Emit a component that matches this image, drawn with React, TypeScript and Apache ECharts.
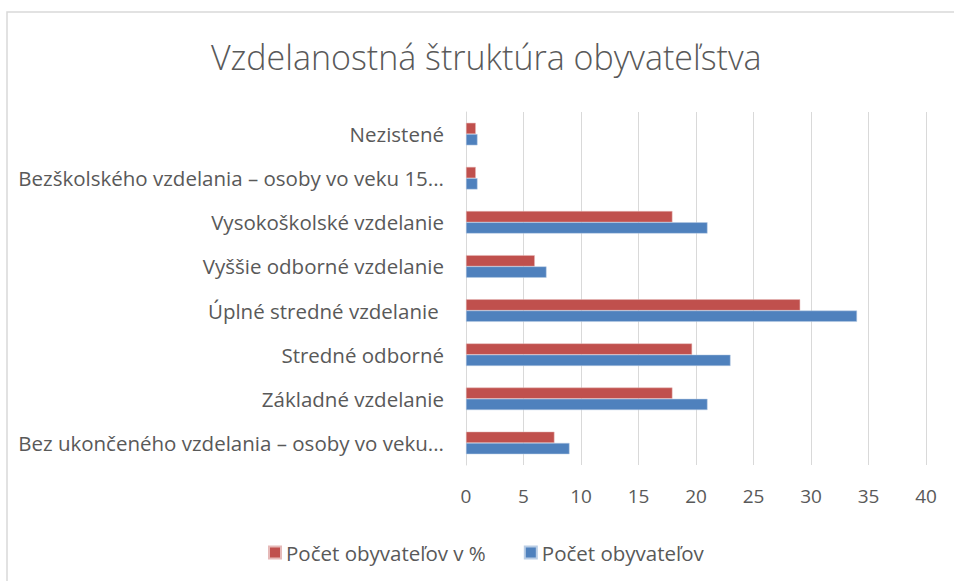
import React, { useEffect, useRef } from "react";
import * as echarts from "echarts";

const categories = [
  "Bez ukončeného vzdelania – osoby vo veku...",
  "Základné vzdelanie",
  "Stredné odborné",
  "Úplné stredné vzdelanie ",
  "Vyššie odborné vzdelanie",
  "Vysokoškolské vzdelanie",
  "Bezškolského vzdelania – osoby vo veku 15...",
  "Nezistené",
];
const percentValues = [7.69, 17.95, 19.66, 29.06, 5.98, 17.95, 0.85, 0.85];
const countValues = [9, 21, 23, 34, 7, 21, 1, 1];
const seriesNames = ["Počet obyvateľov v %", "Počet obyvateľov"];
const titleText = "Vzdelanostná štruktúra obyvateľstva";

const FONT = "Open Sans";
const TEXT_COLOR = "#595959";

export default function App() {
  const ref = useRef<HTMLDivElement>(null);
  useEffect(() => {
    document.body.style.margin = "0";
    const chart = echarts.init(ref.current!, null, { renderer: "svg" });
    chart.setOption({
      animation: false,
      backgroundColor: "#ffffff",
      title: {
        text: titleText,
        left: 206,
        top: 35,
        textStyle: { fontFamily: FONT, fontSize: 34, fontWeight: 300, color: TEXT_COLOR },
      },
      legend: {
        data: seriesNames,
        left: 263,
        top: 537,
        itemWidth: 12,
        itemHeight: 12,
        itemGap: 38,
        icon: "rect",
        textStyle: { fontFamily: FONT, fontSize: 20.5, color: TEXT_COLOR },
      },
      grid: { left: 466, right: 28, top: 112, bottom: 116, containLabel: false },
      xAxis: {
        type: "value",
        min: 0,
        max: 40,
        interval: 5,
        axisLine: { show: false },
        axisTick: { show: false },
        splitLine: { lineStyle: { color: "#D9D9D9", width: 1 } },
        axisLabel: { fontFamily: FONT, fontSize: 19, color: TEXT_COLOR, margin: 21 },
      },
      yAxis: {
        type: "category",
        data: categories,
        axisLine: { show: true, lineStyle: { color: "#D9D9D9", width: 1 } },
        axisTick: { show: false },
        axisLabel: { fontFamily: FONT, fontSize: 20.5, color: TEXT_COLOR, margin: 22 },
      },
      series: [
        {
          name: seriesNames[0],
          type: "bar",
          data: percentValues,
          barGap: "0%",
          barCategoryGap: "49%",
          itemStyle: { color: "#C0504D", borderColor: "#E6B9B8", borderWidth: 0.5 },
        },
        {
          name: seriesNames[1],
          type: "bar",
          data: countValues,
          barGap: "0%",
          barCategoryGap: "49%",
          itemStyle: { color: "#4F81BD", borderColor: "#B9CDE5", borderWidth: 0.5 },
        },
      ],
      graphic: [
        {
          type: "rect",
          shape: { x: 7, y: 12, width: 1200, height: 1200 },
          style: { fill: "none", stroke: "#D9D9D9", lineWidth: 1.5 },
          silent: true,
        },
      ],
    });
    return () => chart.dispose();
  }, []);
  return (
    <div
      ref={ref}
      style={{ position: "absolute", left: 0, top: 0, width: 954, height: 581 }}
    />
  );
}
